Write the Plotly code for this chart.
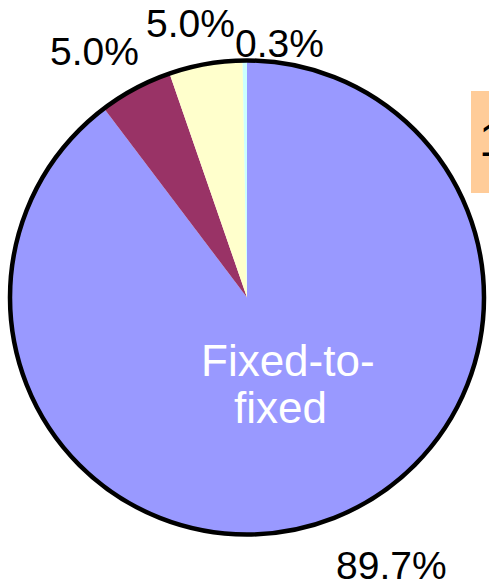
import plotly.graph_objects as go

W, H = 489, 585

labels = ["Fixed-to-fixed", "Slice 2", "Slice 3", "Slice 4"]
values = [89.7, 5.0, 5.0, 0.3]
pct_text = ["89.7%", "5.0%", "5.0%", "0.3%"]
colors = ["#9999FF", "#993366", "#FFFFCC", "#CCFFFF"]

# pie geometry in pixels
cx, cy, r = 247, 297.5, 237

def px(x):
    return x / W

def py(y):
    return 1 - y / H

fig = go.Figure(go.Pie(
    labels=labels,
    values=values,
    sort=False,
    direction="clockwise",
    rotation=0,
    marker=dict(colors=colors, line=dict(width=0)),
    textinfo="none",
    hoverinfo="label+percent",
    showlegend=False,
    domain=dict(x=[px(cx - r), px(cx + r)], y=[py(cy + r), py(cy - r)]),
))

font = "Liberation Sans, Arial, sans-serif"

# outer outline
fig.add_shape(type="circle", xref="paper", yref="paper",
              x0=px(cx - r), x1=px(cx + r), y0=py(cy + r), y1=py(cy - r),
              line=dict(color="black", width=4.5), fillcolor="rgba(0,0,0,0)")

# orange box at right
fig.add_shape(type="rect", xref="paper", yref="paper",
              x0=px(471), x1=px(520), y0=py(193), y1=py(91),
              line=dict(width=0), fillcolor="#FFCC99", layer="below")

label_pos = [(391, 565), (94, 51), (190, 24), (279, 44)]
anns = []
for t, (x, y) in zip(pct_text, label_pos):
    anns.append(dict(text=t, x=px(x), y=py(y), xref="paper", yref="paper",
                     xanchor="center", yanchor="middle", showarrow=False,
                     font=dict(family=font, size=39, color="black")))

anns.append(dict(text="Fixed-to-", x=px(288), y=py(360), xref="paper", yref="paper",
                 xanchor="center", yanchor="middle", showarrow=False,
                 font=dict(family=font, size=44, color="white")))
anns.append(dict(text="fixed", x=px(280), y=py(407), xref="paper", yref="paper",
                 xanchor="center", yanchor="middle", showarrow=False,
                 font=dict(family=font, size=44, color="white")))
anns.append(dict(text="1", x=px(477), y=py(139), xref="paper", yref="paper",
                 xanchor="left", yanchor="middle", showarrow=False,
                 font=dict(family=font, size=48, color="black")))

fig.update_layout(
    width=W, height=H,
    margin=dict(l=0, r=0, t=0, b=0),
    paper_bgcolor="white", plot_bgcolor="white",
    annotations=anns,
)

fig.write_html("out.html")
